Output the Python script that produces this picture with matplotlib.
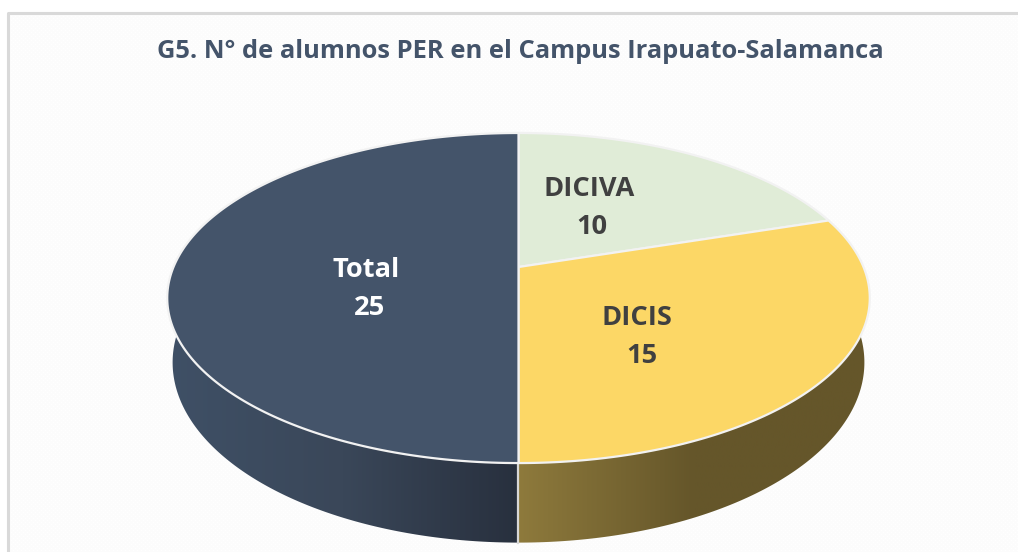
import numpy as np
import matplotlib
matplotlib.use("Agg")
import matplotlib.pyplot as plt
from matplotlib.colors import LinearSegmentedColormap
from matplotlib.patches import Polygon

title = "G5. N° de alumnos PER en el Campus Irapuato-Salamanca"
labels = ["DICIVA", "DICIS", "Total"]
values = [10, 15, 25]
top_colors = ["#E0ECD7", "#FCD766", "#44546A"]
side_stops = [["#A9B3A3", "#A9B3A3"],
              ["#8E7A3C", "#65562A", "#65562A"],
              ["#3F5066", "#3A4759", "#28303E"]]
text_colors = ["#404040", "#404040", "#FFFFFF"]
label_xy = [(589, 189), (637, 318), (366, 270)]
value_dx = [3, 5, 4]

W, H = 1018, 552
CX, CY = 518.5, 267.0
A, B, K = 345.0, 159.2, 0.188
M, C, B_GROW = 0.015, 63.0, 0.036


def project(theta, z=0.0):
    """Clockwise angle from 12 o'clock to picture pixels, perspective view."""
    u, v = np.sin(theta), np.cos(theta)
    w = 1 + K * v + M * z
    return CX + A * u / w, CY + (-B * (1 + B_GROW * z) * v + C * z) / w


def arc(a0, a1, z=0.0, n=200):
    x, y = project(np.linspace(a0, a1, n), z)
    return np.column_stack([x, y])


fig = plt.figure(figsize=(W / 100, H / 100), dpi=100)
ax = fig.add_axes([0, 0, 1, 1])
ax.set_xlim(0, W)
ax.set_ylim(H, 0)
ax.axis("off")

# faint dotted chart background
tile = np.full((8, 8), 0.985)
tile[::4, ::4] = 1.0
tile[2::4, 2::4] = 1.0
back = np.tile(tile, (H // 8 + 1, W // 8 + 1))[:H - 14, :W - 9]
ax.imshow(back, cmap="gray", vmin=0, vmax=1, extent=(9, W, H, 14),
          interpolation="nearest", aspect="auto", zorder=0)
ax.plot([8, 8, W], [H, 12.5, 12.5], color="#D9D9D9", lw=2.2, zorder=1)

edges = 2 * np.pi * np.cumsum([0] + values) / sum(values)

# side wall, front part only
for i, (a0, a1) in enumerate(zip(edges[:-1], edges[1:])):
    lo, hi = max(a0, np.radians(60)), min(a1, np.radians(300))
    if lo >= hi:
        continue
    outline = np.vstack([arc(lo, hi), arc(hi, lo, 1.0)])
    xmin, xmax = outline[:, 0].min(), outline[:, 0].max()
    ymin, ymax = outline[:, 1].min(), outline[:, 1].max()
    cmap = LinearSegmentedColormap.from_list(f"side{i}", side_stops[i])
    grad = np.linspace(0, 1, 256)[None, :]
    im = ax.imshow(grad, cmap=cmap, extent=(xmin, xmax, ymax, ymin),
                   aspect="auto", zorder=2)
    clip = Polygon(outline, closed=True, transform=ax.transData)
    im.set_clip_path(clip)

# seam in the front of the wall
x0, y0 = project(np.pi, 0.0)
x1, y1 = project(np.pi, 1.0)
ax.plot([x0, x1], [y0, y1], color="#D8D8D8", lw=1.6, zorder=3)

# top face
for i, (a0, a1) in enumerate(zip(edges[:-1], edges[1:])):
    pts = np.vstack([[CX, CY], arc(a0, a1)])
    ax.add_patch(Polygon(pts, closed=True, facecolor=top_colors[i],
                         edgecolor="#F2F2F2", lw=1.6, zorder=4,
                         joinstyle="round"))

ax.text(520, 51, title, ha="center", va="center", fontsize=18.35,
        fontweight="bold", family="Open Sans", color="#44546A", zorder=6)

for name, val, col, (tx, ty), dx in zip(labels, values, text_colors, label_xy, value_dx):
    ax.text(tx, ty, name, ha="center", va="center", fontsize=19.6,
            fontweight="bold", family="Open Sans", color=col, zorder=6)
    ax.text(tx + dx, ty + 38, str(val), ha="center", va="center", fontsize=19.6,
            fontweight="bold", family="Open Sans", color=col, zorder=6)

fig.savefig("out.png", dpi=100)
